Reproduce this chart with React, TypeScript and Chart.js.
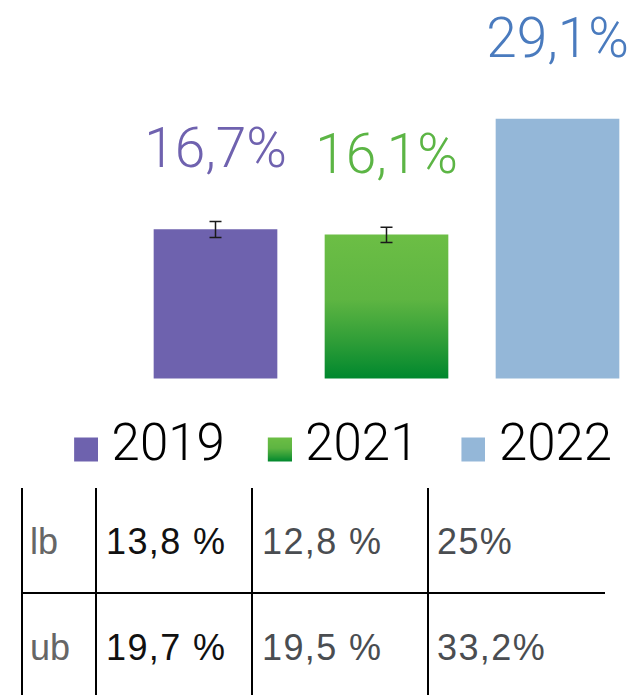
import React, { useEffect, useRef } from 'react';
import { Chart, registerables } from 'chart.js';

Chart.register(...registerables);

// ---- data ----
const years = ['2019', '2021', '2022'];
const shares = [16.7, 16.1, 29.1];
const errorMargins = [0.9, 0.85, 0];
const tableRowLabels = ['lb', 'ub'];
const lowerBounds = ['13,8 %', '12,8 %', '25%'];
const upperBounds = ['19,7 %', '19,5 %', '33,2%'];

// ---- styles ----
const CHART_FONT = 'Roboto, "Liberation Sans", Arial, sans-serif';
const TABLE_FONT = '"Liberation Sans", Arial, sans-serif';
const PURPLE = '#6E62AE';
const BLUE = '#94B7D8';
const GREEN_STOPS: [number, string][] = [
  [0, '#6CBE45'],
  [0.45, '#5EB542'],
  [0.75, '#2E9D37'],
  [1, '#00882E'],
];
const labelColors = ['#6F62AF', '#5CB545', '#4A7BBE'];
const tableTextColors = ['#111111', '#4A4D51', '#4A4D51'];

function greenGradient(ctx: CanvasRenderingContext2D, top: number, bottom: number) {
  const g = ctx.createLinearGradient(0, top, 0, bottom);
  GREEN_STOPS.forEach(([o, c]) => g.addColorStop(o, c));
  return g;
}

// legend swatch: transparent image with the 24px square on its right side
function makeSwatch(i: number) {
  const c = document.createElement('canvas');
  c.width = 69;
  c.height = 32;
  const x = c.getContext('2d') as CanvasRenderingContext2D;
  x.fillStyle = i === 1 ? greenGradient(x, 6, 30) : i === 0 ? PURPLE : BLUE;
  x.fillRect(45, 6, 24, 24);
  return c;
}

const fmt = (v: number) => v.toFixed(1).replace('.', ',') + '%';

const valueLabelPlugin = {
  id: 'valueLabels',
  afterDatasetsDraw(chart: any) {
    const meta = chart.getDatasetMeta(0);
    const ctx = chart.ctx as CanvasRenderingContext2D;
    ctx.save();
    ctx.font = `300 55px ${CHART_FONT}`;
    ctx.textAlign = 'center';
    ctx.textBaseline = 'alphabetic';
    meta.data.forEach((bar: any, i: number) => {
      ctx.fillStyle = labelColors[i];
      ctx.fillText(fmt(shares[i]), bar.x, bar.y - 62);
    });
    ctx.restore();
  },
};

const errorBarPlugin = {
  id: 'errorBars',
  afterDatasetsDraw(chart: any) {
    const meta = chart.getDatasetMeta(0);
    const ys = chart.scales.y;
    const ctx = chart.ctx as CanvasRenderingContext2D;
    ctx.save();
    ctx.strokeStyle = '#1A1A1A';
    ctx.lineWidth = 1.5;
    meta.data.forEach((bar: any, i: number) => {
      const e = errorMargins[i];
      if (!e) return;
      const top = ys.getPixelForValue(shares[i] + e);
      const bot = ys.getPixelForValue(shares[i] - e);
      ctx.beginPath();
      ctx.moveTo(bar.x, top);
      ctx.lineTo(bar.x, bot);
      ctx.moveTo(bar.x - 6, top);
      ctx.lineTo(bar.x + 6, top);
      ctx.moveTo(bar.x - 6, bot);
      ctx.lineTo(bar.x + 6, bot);
      ctx.stroke();
    });
    ctx.restore();
  },
};

export default function App() {
  const ref = useRef<HTMLCanvasElement | null>(null);

  useEffect(() => {
    if (!ref.current) return;
    const swatches = years.map((_, i) => makeSwatch(i));
    const chart = new Chart(ref.current, {
      type: 'bar',
      data: {
        datasets: [
          {
            label: 'share',
            data: shares.map((v, i) => ({ x: i, y: v })) as any,
            backgroundColor: (c: any) => {
              const i = c.dataIndex;
              if (i === 1) {
                const ch = c.chart;
                const ys = ch.scales && ch.scales.y;
                if (!ys || !ch.chartArea) return '#5EB542';
                return greenGradient(ch.ctx, ys.getPixelForValue(shares[1]), ys.getPixelForValue(0));
              }
              return i === 0 ? PURPLE : BLUE;
            },
            borderWidth: 0,
            barThickness: 123,
          } as any,
        ],
      },
      options: {
        animation: false,
        responsive: false,
        maintainAspectRatio: false,
        layout: { padding: { left: 18.2, right: 0, top: 0, bottom: 0 } },
        scales: {
          x: {
            type: 'linear',
            display: false,
            offset: false,
            bounds: 'data',
            min: -1.1538,
            max: 2.4532,
            ticks: { stepSize: 1, includeBounds: false },
          },
          y: { display: false, min: -3.812, max: 42.49 },
        },
        plugins: {
          tooltip: { enabled: false },
          legend: {
            position: 'bottom',
            align: 'center',
            labels: {
              usePointStyle: true,
              boxWidth: 45,
              boxHeight: 24,
              padding: 10,
              color: '#000000',
              font: { family: CHART_FONT, size: 51, weight: 300 },
              generateLabels: () =>
                years.map((y, i) => ({
                  text: y,
                  pointStyle: swatches[i] as any,
                  fillStyle: 'transparent',
                  strokeStyle: 'transparent',
                  lineWidth: 0,
                  hidden: false,
                  index: i,
                })),
            },
          },
        },
      } as any,
      plugins: [valueLabelPlugin, errorBarPlugin],
    });
    return () => chart.destroy();
  }, []);

  const vLines = [21, 95, 251, 427];
  const colX = [106, 262, 437];
  const rowTop = [524, 630];
  const rows = [lowerBounds, upperBounds];
  const cellText = {
    position: 'absolute' as const,
    fontSize: 36,
    lineHeight: '36px',
    letterSpacing: '1.4px',
    whiteSpace: 'nowrap' as const,
  };

  return (
    <div
      style={{
        position: 'fixed',
        left: 0,
        top: 0,
        width: 635,
        height: 695,
        overflow: 'hidden',
        background: '#fff',
        fontFamily: TABLE_FONT,
      }}
    >
      <canvas ref={ref} width={635} height={483} style={{ position: 'absolute', left: 0, top: 0, display: 'block' }} />
      {vLines.map((x, i) => (
        <div key={'v' + i} style={{ position: 'absolute', left: x, top: 488, width: 2, height: 220, background: '#000' }} />
      ))}
      <div style={{ position: 'absolute', left: 21, top: 592, width: 584, height: 2, background: '#000' }} />
      {rows.map((vals, r) => (
        <React.Fragment key={'r' + r}>
          <div style={{ ...cellText, left: 30, top: rowTop[r], color: '#666666', letterSpacing: '0px' }}>
            {tableRowLabels[r]}
          </div>
          {vals.map((v, c) => (
            <div key={c} style={{ ...cellText, left: colX[c], top: rowTop[r], color: tableTextColors[c] }}>
              {v}
            </div>
          ))}
        </React.Fragment>
      ))}
    </div>
  );
}
